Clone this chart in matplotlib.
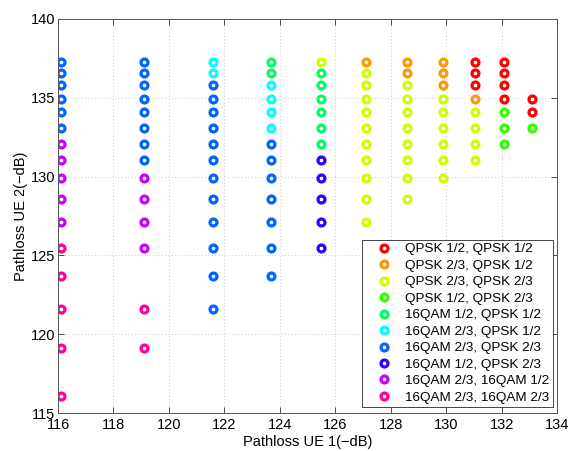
import colorsys
import matplotlib
matplotlib.use("Agg")
import matplotlib.pyplot as plt

plt.rcParams['font.family'] = ['Liberation Sans', 'DejaVu Sans']

# === Data: pathloss pairs (UE1 x -> list of UE2 y) per modulation pair ===
labels = [
    "QPSK 1/2, QPSK 1/2",
    "QPSK 2/3, QPSK 1/2",
    "QPSK 2/3, QPSK 2/3",
    "QPSK 1/2, QPSK 2/3",
    "16QAM 1/2, QPSK 1/2",
    "16QAM 2/3, QPSK 1/2",
    "16QAM 2/3, QPSK 2/3",
    "16QAM 1/2, QPSK 2/3",
    "16QAM 2/3, 16QAM 1/2",
    "16QAM 2/3, 16QAM 2/3",
]

qpsk12_qpsk12 = {131.05: [135.8, 136.55, 137.25],
                 132.1: [134.95, 135.8, 136.55, 137.25],
                 133.1: [134.1, 134.95]}
qpsk23_qpsk12 = {127.1: [137.25],
                 128.6: [136.55, 137.25],
                 129.9: [135.8, 136.55, 137.25],
                 131.05: [134.95]}
qpsk23_qpsk23 = {125.5: [137.25],
                 127.1: [127.1, 128.6, 129.9, 131.05, 132.1, 133.1, 134.1, 134.95, 135.8, 136.55],
                 128.6: [128.6, 129.9, 131.05, 132.1, 133.1, 134.1, 134.95, 135.8],
                 129.9: [129.9, 131.05, 132.1, 133.1, 134.1, 134.95],
                 131.05: [131.05, 132.1, 133.1, 134.1]}
qpsk12_qpsk23 = {132.1: [132.1, 133.1, 134.1],
                 133.1: [133.1]}
qam12_qpsk12 = {123.7: [136.55, 137.25],
                125.5: [132.1, 133.1, 134.1, 134.95, 135.8, 136.55]}
qam23_qpsk12 = {121.6: [136.55, 137.25],
                123.7: [133.1, 134.1, 134.95, 135.8]}
qam23_qpsk23 = {116.1: [133.1, 134.1, 134.95, 135.8, 136.55, 137.25],
                119.1: [131.05, 132.1, 133.1, 134.1, 134.95, 135.8, 136.55, 137.25],
                121.6: [121.6, 123.7, 125.5, 127.1, 128.6, 129.9, 131.05, 132.1,
                        133.1, 134.1, 134.95, 135.8],
                123.7: [123.7, 125.5, 127.1, 128.6, 129.9, 131.05, 132.1]}
qam12_qpsk23 = {125.5: [125.5, 127.1, 128.6, 129.9, 131.05]}
qam23_qam12 = {116.1: [127.1, 128.6, 129.9, 131.05, 132.1],
               119.1: [125.5, 127.1, 128.6, 129.9]}
qam23_qam23 = {116.1: [116.1, 119.1, 121.6, 123.7, 125.5],
               119.1: [119.1, 121.6]}

series = [qpsk12_qpsk12, qpsk23_qpsk12, qpsk23_qpsk23, qpsk12_qpsk23,
          qam12_qpsk12, qam23_qpsk12, qam23_qpsk23, qam12_qpsk23,
          qam23_qam12, qam23_qam23]

# MATLAB hsv(10) colours
colors = [colorsys.hsv_to_rgb(i / 10, 1, 1) for i in range(10)]

fig = plt.figure(figsize=(5.71, 4.51), dpi=100)
ax = fig.add_axes([0.1016, 0.084, 0.8739, 0.874])

for pts, lab, c in zip(series, labels, colors):
    xs = [x for x, ys in pts.items() for _ in ys]
    ys = [y for ylist in pts.values() for y in ylist]
    ax.plot(xs, ys, linestyle='none', marker='o', markersize=5.0,
            markeredgewidth=2.3, markerfacecolor='white', markeredgecolor=c,
            label=lab)

ax.set_xlim(116, 134)
ax.set_ylim(115, 140)
ax.set_xticks(range(116, 135, 2))
ax.set_yticks(range(115, 141, 5))
ax.tick_params(direction='in', top=True, right=True, length=4, width=0.6,
               labelsize=10.5, pad=2, color='#333333')
ax.tick_params(axis='x', pad=3.5)
ax.grid(True, linestyle=(0, (1, 3)), color='#b8b8b8', linewidth=0.6)
for s in ax.spines.values():
    s.set_linewidth(0.7)
    s.set_color('#555555')

ax.set_xlabel("Pathloss UE 1(\u2212dB)", fontsize=10.5, labelpad=2)
ax.set_ylabel("Pathloss UE 2(\u2212dB)", fontsize=10.5, labelpad=2)

leg = ax.legend(loc='lower right', bbox_to_anchor=(553 / 571, 1 - 407 / 451),
                bbox_transform=fig.transFigure, borderaxespad=0,
                fontsize=9.7, frameon=True, fancybox=False,
                framealpha=1, edgecolor='#444444',
                handlelength=2.8, handletextpad=0.2, labelspacing=0.3,
                borderpad=0.25, numpoints=1)
leg.get_frame().set_linewidth(0.7)

fig.savefig("out.png", dpi=100)
